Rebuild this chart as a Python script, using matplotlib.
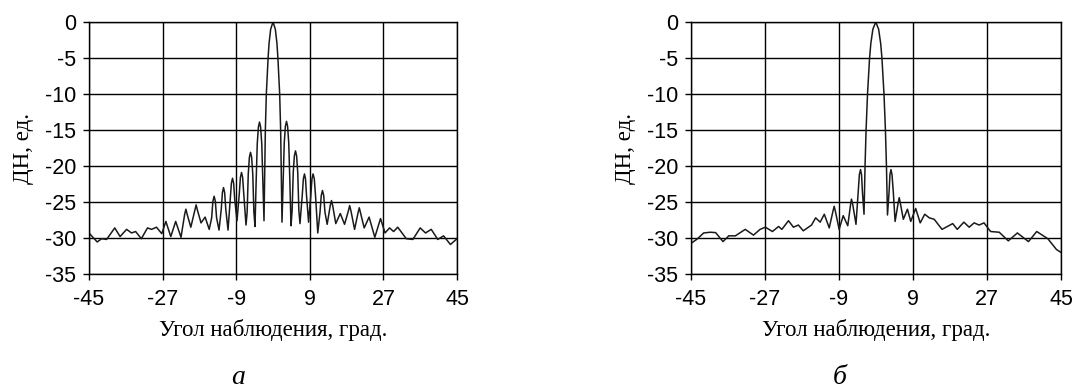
import matplotlib
matplotlib.use("Agg")
import matplotlib.pyplot as plt

plt.rcParams['axes.unicode_minus'] = False

# --- данные (угол, град. / ДН, дБ) ---
ang_a = [-45.0, -43.0, -41.9, -40.7, -38.7, -37.4, -35.8, -34.6, -33.6, -32.2,
         -30.7, -29.7, -28.5, -27.2, -26.2, -25.0, -23.8, -22.5, -21.6, -21.3,
         -21.0, -20.1, -19.1, -18.8, -18.5, -17.6, -16.6, -15.6, -15.0, -14.7,
         -14.4, -14.1, -13.8, -13.2, -12.65, -12.375, -12.1, -11.825, -11.55, -11.0,
         -10.45, -10.175, -9.9, -9.625, -9.35, -8.8, -8.25, -7.975, -7.7, -7.425,
         -7.15, -6.6, -6.325, -6.05, -5.775, -5.5, -5.225, -4.95, -4.675, -4.4,
         -4.125, -3.85, -3.575, -3.3, -3.025, -2.75, -2.475, -2.2,
         -2.0, -1.87, -1.63, -1.2, -0.97, -0.57, 0.0, 0.57, 0.97, 1.2, 1.63, 1.87, 2.0,
         2.2, 2.475, 2.75, 3.025, 3.3, 3.575, 3.85, 4.125, 4.4,
         4.675, 4.95, 5.225, 5.5, 5.775, 6.05, 6.325, 6.6,
         7.15, 7.425, 7.7, 7.95, 8.2, 8.7,
         9.25, 9.525, 9.8, 10.1, 10.4, 10.95,
         11.5, 11.8, 12.1, 12.4, 12.7, 13.25,
         14.0, 14.3, 14.6, 15.35, 16.45, 17.5,
         18.45, 18.75, 19.05, 19.95, 20.8, 21.1, 21.4, 22.3,
         23.5, 24.9, 26.3, 27.4, 28.5, 29.5, 30.5, 32.6, 34.2, 36.0,
         37.3, 38.7, 40.3, 41.7, 43.4, 45.0]
dn_a = [-29.3, -30.55, -30.1, -30.2, -28.6, -29.8, -28.8, -29.3, -29.1, -30.1,
        -28.6, -28.8, -28.5, -29.4, -27.7, -29.8, -27.7, -29.9, -26.7, -26.0,
        -26.7, -28.5, -26.1, -25.4, -26.1, -27.9, -27.1, -28.8, -27.2, -24.9,
        -24.2, -24.9, -27.2, -28.9, -26.0, -23.7, -23.0, -23.7, -26.0, -28.9,
        -24.7, -22.4, -21.7, -22.4, -24.7, -27.6, -23.9, -21.6, -20.9, -21.6,
        -23.9, -28.2, -26.4, -21.1, -18.8, -18.1, -18.8, -21.1, -26.4, -28.4,
        -22.2, -16.9, -14.6, -13.9, -14.6, -16.9, -22.2, -27.6,
        -20.0, -15.0, -10.0, -5.0, -3.0, -1.0, 0.0, -1.0, -3.0, -5.0, -10.0, -15.0, -20.0,
        -27.8, -22.1, -16.8, -14.5, -13.8, -14.5, -16.8, -22.1, -28.3,
        -26.2, -20.9, -18.6, -17.9, -18.6, -20.9, -26.2, -28.0,
        -24.1, -21.8, -21.1, -21.8, -24.1, -27.8,
        -24.1, -21.8, -21.1, -21.8, -24.1, -29.3,
        -26.4, -24.1, -23.4, -24.1, -26.4, -28.1,
        -25.5, -24.8, -25.5, -28.0, -26.6, -28.1,
        -26.2, -25.5, -26.2, -28.8, -26.5, -25.8, -26.5, -28.6,
        -27.1, -29.9, -27.3, -29.3, -28.6, -29.1, -28.5, -30.1, -30.2, -28.6,
        -29.3, -28.8, -30.2, -29.7, -30.9, -30.1]

ang_b = [-45.0, -43.4, -41.8, -40.2, -38.9, -37.1, -35.7, -34.1, -31.7, -29.7,
         -28.1, -26.8, -25.1, -23.6, -22.8, -21.2, -20.0, -18.8, -17.6, -15.6,
         -14.6, -13.5, -12.5, -11.3, -10.4, -10.1, -9.8, -8.9, -7.9, -6.8,
         -6.1, -5.9, -5.6, -4.8, -4.25, -3.98, -3.7, -3.45, -3.25, -2.85,
         -2.6, -2.35, -2.0, -1.5, -1.2, -0.7, 0.0, 0.7, 1.2, 1.5, 2.0, 2.35, 2.6,
         2.85, 3.25, 3.45, 3.7, 3.95, 4.25, 4.7, 5.45, 5.7, 5.95, 6.7,
         7.7, 8.5, 9.7, 10.8, 11.9, 13.0, 14.2, 16.1, 18.7, 19.8,
         21.4, 22.7, 23.9, 25.1, 26.3, 27.9, 30.0, 32.2, 34.4, 37.1,
         39.1, 41.8, 43.9, 45.0]
dn_b = [-30.8, -30.15, -29.3, -29.2, -29.25, -30.5, -29.7, -29.7, -28.8, -29.6,
        -28.8, -28.5, -29.1, -28.4, -28.8, -27.6, -28.5, -28.2, -29.0, -28.2,
        -27.2, -27.8, -26.7, -28.6, -26.3, -25.6, -26.3, -28.8, -26.9, -28.3,
        -25.3, -24.6, -25.3, -28.1, -23.5, -21.2, -20.5, -21.2, -23.5, -26.7,
        -20.0, -15.0, -10.0, -5.0, -3.0, -1.0, 0.0, -1.0, -3.0, -5.0, -10.0, -15.0, -20.0,
        -26.8, -23.5, -21.2, -20.5, -21.2, -23.5, -27.7, -25.1, -24.4, -25.1, -27.4,
        -26.0, -27.7, -25.9, -27.9, -26.7, -27.2, -27.4, -28.8, -28.0, -28.8,
        -27.8, -28.5, -27.9, -28.2, -27.9, -29.1, -29.2, -30.4, -29.3, -30.5,
        -29.1, -30.1, -31.6, -32.0]

x_ticks = [-45, -27, -9, 9, 27, 45]
y_ticks = [0, -5, -10, -15, -20, -25, -30, -35]
x_title = "Угол наблюдения, град."
y_title = "ДН, ед."
letters = ["а", "б"]

W, H = 1074, 388
fig = plt.figure(figsize=(W / 100, H / 100), dpi=100)

# положение осей в пикселях: (лево, право)
boxes = [(89, 457), (690.5, 1061)]
top, bottom = 22, 274
letter_x = [238, 840]

for (l, r), ang, dn, lt, lx in zip(boxes, [ang_a, ang_b], [dn_a, dn_b], letters, letter_x):
    ax = fig.add_axes([l / W, 1 - bottom / H, (r - l) / W, (bottom - top) / H])
    ax.plot(ang, dn, color='#1a1a1a', lw=1.1)
    ax.set_xlim(-45, 45)
    ax.set_ylim(-35, 0)
    ax.set_xticks(x_ticks)
    ax.set_yticks(y_ticks)
    ax.grid(True, color='black', lw=1.0)
    for s in ax.spines.values():
        s.set_color('black')
        s.set_linewidth(1.0)
    ax.tick_params(direction='out', length=4, width=1.0, colors='black',
                   labelsize=15.5, pad=5)
    ax.tick_params(axis='x', pad=7)
    for t in ax.get_xticklabels() + ax.get_yticklabels():
        t.set_family('Liberation Sans')
    ax.set_xlabel(x_title, family='Liberation Serif', fontsize=16.5, labelpad=6)
    ax.set_ylabel(y_title, family='Liberation Serif', fontsize=16.5, labelpad=8)
    fig.text(lx / W, 1 - 377 / H, lt, family='Liberation Serif', style='italic',
             fontsize=20, ha='center', va='center')

fig.savefig("out.png", dpi=100)
